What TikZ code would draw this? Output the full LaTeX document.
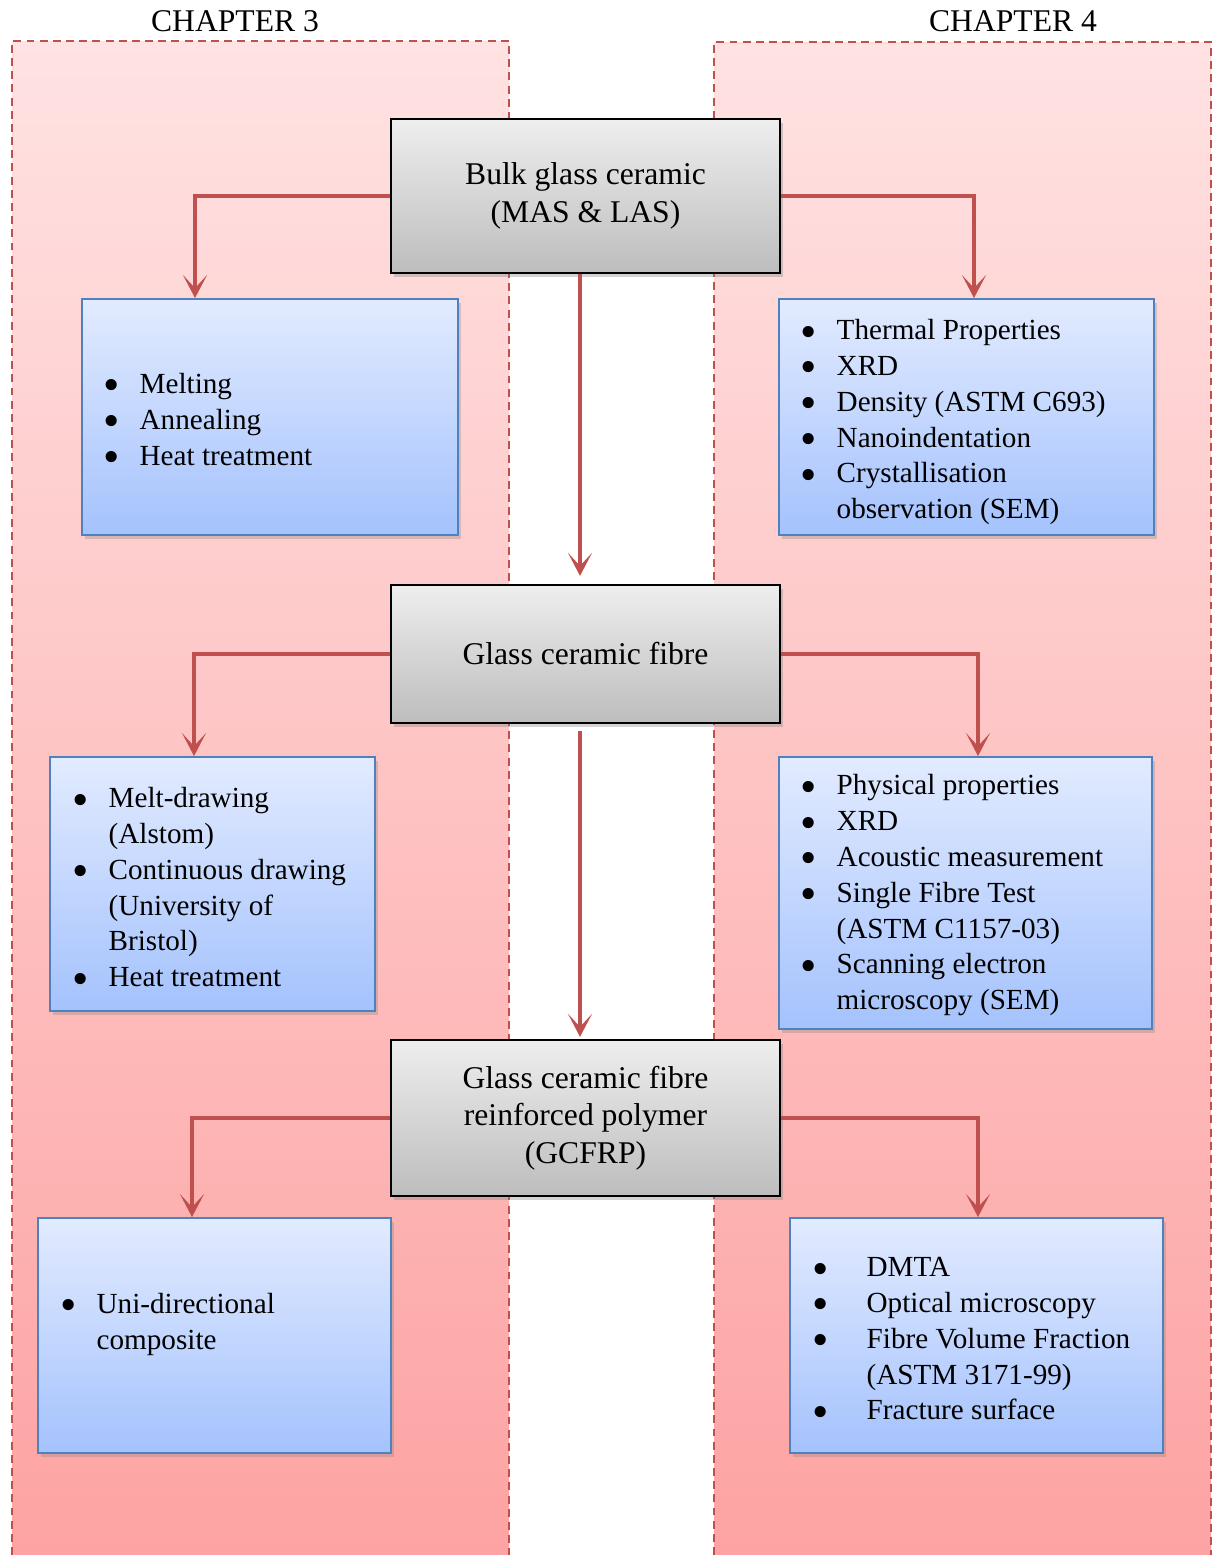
\documentclass[tikz,border=0pt]{standalone}
\usepackage{fontspec}
\usepackage{graphicx}
\setmainfont{Liberation Serif}
\usetikzlibrary{arrows.meta,shadows,positioning}

\definecolor{chapred}{HTML}{C0504D}
\definecolor{pinktop}{HTML}{FFE2E2}
\definecolor{pinkbot}{HTML}{FDA3A3}
\definecolor{greytop}{HTML}{EEEEEE}
\definecolor{greybot}{HTML}{BDBDBD}
\definecolor{bluetop}{HTML}{E2EBFF}
\definecolor{bluebot}{HTML}{A4C2FD}
\definecolor{blueline}{HTML}{4F81BD}

\newcommand{\bul}{\smash{\raisebox{-0.26em}{\scalebox{1.6}{\textbullet}}}}

\begin{document}
\begin{tikzpicture}[x=0.02cm, y=-0.02cm]
	\tikzset{MainStyle/.style = {
			shape=rectangle,
			draw=black,
			line width=1.3pt,
			top color=greytop, bottom color=greybot,
			drop shadow={opacity=0.35, shadow xshift=0.6mm, shadow yshift=-0.8mm},
			minimum width=7.78cm,
			align=center,
			font=\fontsize{18}{21.2}\selectfont
	}}
	\tikzset{SideStyle/.style = {
			shape=rectangle,
			draw=blueline,
			line width=1.1pt,
			top color=bluetop, bottom color=bluebot,
			drop shadow={opacity=0.3, shadow xshift=0.6mm, shadow yshift=-0.8mm}
	}}
	\tikzset{ListStyle/.style = {
			anchor=west,
			inner sep=0pt,
			align=left,
			font=\fontsize{16.6}{20.4}\selectfont
	}}
	\tikzset{ArrowStyle/.style = {
			draw=chapred,
			line width=2.2pt,
			-{Stealth[length=4.6mm, width=4.8mm, inset=2.6mm]}
	}}
	\useasboundingbox (0,0) rectangle (1214,1555);

	% chapter panels
	\shade[top color=pinktop, bottom color=pinkbot] (12,41) rectangle (509,1555);
	\shade[top color=pinktop, bottom color=pinkbot] (714,42) rectangle (1211,1555);
	\draw[chapred, line width=1.1pt, dash pattern=on 4.5pt off 3pt] (12,1555) -- (12,41) -- (509,41) -- (509,1555);
	\draw[chapred, line width=1.1pt, dash pattern=on 4.5pt off 3pt] (714,1555) -- (714,42) -- (1211,42) -- (1211,1555);
	\node[font=\fontsize{18}{21}\selectfont] (ch3) at (235,21) {CHAPTER 3};
	\node[font=\fontsize{18}{21}\selectfont] (ch4) at (1013,21) {CHAPTER 4};

	% main column
	\node[MainStyle, minimum height=3.08cm] (bulk) at (585.5,196) {Bulk glass ceramic\\(MAS \& LAS)};
	\node[MainStyle, minimum height=2.76cm] (fibre) at (585.5,654) {Glass ceramic fibre};
	\node[MainStyle, minimum height=3.12cm] (gcfrp) at (585.5,1118) {Glass ceramic fibre\\reinforced polymer\\(GCFRP)};

	% side boxes
	\node[SideStyle, minimum width=7.52cm, minimum height=4.72cm] (bulkprep) at (270,417) {};
	\node[SideStyle, minimum width=7.5cm, minimum height=4.72cm] (bulktest) at (966.5,417) {};
	\node[SideStyle, minimum width=6.5cm, minimum height=5.08cm] (fibreprep) at (212.5,884) {};
	\node[SideStyle, minimum width=7.46cm, minimum height=5.44cm] (fibretest) at (965.5,893) {};
	\node[SideStyle, minimum width=7.06cm, minimum height=4.7cm] (compprep) at (214.5,1335.5) {};
	\node[SideStyle, minimum width=7.46cm, minimum height=4.7cm] (comptest) at (976.5,1335.5) {};

	\node[ListStyle] (bulkpreplist) at (103,422) {\begin{tabular}{@{}l@{\hspace{0.40cm}}l@{}}
		\bul & Melting\\
		\bul & Annealing\\
		\bul & Heat treatment
	\end{tabular}};
	\node[ListStyle] (bulktestlist) at (800,422) {\begin{tabular}{@{}l@{\hspace{0.40cm}}l@{}}
		\bul & Thermal Properties\\
		\bul & XRD\\
		\bul & Density (ASTM C693)\\
		\bul & Nanoindentation\\
		\bul & Crystallisation\\
		     & observation (SEM)
	\end{tabular}};
	\node[ListStyle] (fibreprepist) at (72,890) {\begin{tabular}{@{}l@{\hspace{0.40cm}}l@{}}
		\bul & Melt-drawing\\
		     & (Alstom)\\
		\bul & Continuous drawing\\
		     & (University of\\
		     & Bristol)\\
		\bul & Heat treatment
	\end{tabular}};
	\node[ListStyle] (fibretestlist) at (800,895) {\begin{tabular}{@{}l@{\hspace{0.40cm}}l@{}}
		\bul & Physical properties\\
		\bul & XRD\\
		\bul & Acoustic measurement\\
		\bul & Single Fibre Test\\
		     & (ASTM C1157-03)\\
		\bul & Scanning electron\\
		     & microscopy (SEM)
	\end{tabular}};
	\node[ListStyle] (compreplist) at (60,1324) {\begin{tabular}{@{}l@{\hspace{0.40cm}}l@{}}
		\bul & Uni-directional\\
		     & composite
	\end{tabular}};
	\node[ListStyle] (comptestlist) at (812,1341) {\begin{tabular}{@{}l@{\hspace{0.76cm}}l@{}}
		\bul & DMTA\\
		\bul & Optical microscopy\\
		\bul & Fibre Volume Fraction\\
		     & (ASTM 3171-99)\\
		\bul & Fracture surface
	\end{tabular}};

	% arrows
	\draw[ArrowStyle] (bulk.west) -| ([xshift=-1.5cm]bulkprep.north);
	\draw[ArrowStyle] (bulk.east) -| ([xshift=0.15cm]bulktest.north);
	\draw[ArrowStyle, shorten >=0.16cm] ([xshift=-0.11cm]bulk.south) -- ([xshift=-0.11cm]fibre.north);
	\draw[ArrowStyle] (fibre.west) -| ([xshift=-0.37cm]fibreprep.north);
	\draw[ArrowStyle] (fibre.east) -| ([xshift=0.25cm]fibretest.north);
	\draw[ArrowStyle, shorten <=0.14cm, shorten >=0.04cm] ([xshift=-0.11cm]fibre.south) -- ([xshift=-0.11cm]gcfrp.north);
	\draw[ArrowStyle] (gcfrp.west) -| ([xshift=-0.45cm]compprep.north);
	\draw[ArrowStyle] (gcfrp.east) -| ([xshift=0.03cm]comptest.north);
\end{tikzpicture}
\end{document}
